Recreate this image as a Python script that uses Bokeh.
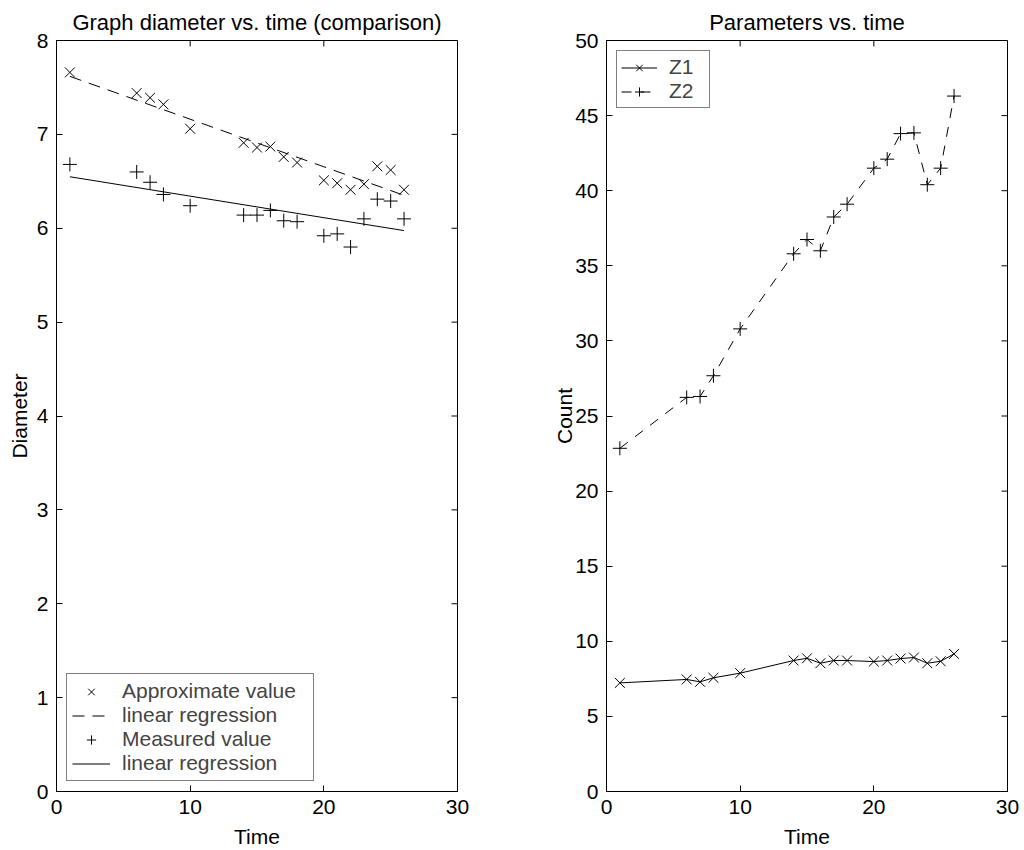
import numpy as np
from bokeh.plotting import figure
from bokeh.layouts import row
from bokeh.models import Range1d, FixedTicker, Legend, LegendItem
from bokeh.embed import file_html
from bokeh.resources import INLINE

time = [1, 6, 7, 8, 10, 14, 15, 16, 17, 18, 20, 21, 22, 23, 24, 25, 26]
approx_value = [7.66, 7.44, 7.39, 7.32, 7.06, 6.91, 6.86, 6.87, 6.76, 6.70,
                6.51, 6.48, 6.41, 6.47, 6.66, 6.62, 6.41]
measured_value = [6.68, 6.60, 6.49, 6.36, 6.24, 6.14, 6.14, 6.19, 6.08, 6.07,
                  5.92, 5.94, 5.80, 6.10, 6.31, 6.29, 6.10]
z1 = [7.23, 7.46, 7.30, 7.57, 7.88, 8.72, 8.87, 8.54, 8.72, 8.72,
      8.65, 8.72, 8.85, 8.92, 8.54, 8.67, 9.16]
z2 = [22.85, 26.24, 26.3, 27.68, 30.8, 35.8, 36.75, 36.0, 38.25, 39.1,
      41.5, 42.1, 43.8, 43.85, 40.4, 41.5, 46.3]

x_ticks = [0, 10, 20, 30]
left_y_ticks = [0, 1, 2, 3, 4, 5, 6, 7, 8]
right_y_ticks = [0, 5, 10, 15, 20, 25, 30, 35, 40, 45, 50]

X_MIN, X_MAX = 0, 30
LEFT_Y_MAX = 8
RIGHT_Y_MAX = 50

FONT = "Liberation Sans"
FS = "21px"
TITLE_FS = "22px"

t = np.array(time, dtype=float)
fit_a = np.polyfit(t, np.array(approx_value), 1)
fit_m = np.polyfit(t, np.array(measured_value), 1)
reg_t = [time[0], time[-1]]
reg_a = list(np.polyval(fit_a, reg_t))
reg_m = list(np.polyval(fit_m, reg_t))


def style(p, yticks, y_max, ylabel_standoff):
    p.outline_line_color = "black"
    p.outline_line_width = 1
    p.xgrid.visible = False
    p.ygrid.visible = False
    p.title.text_font = FONT
    p.title.text_font_size = TITLE_FS
    p.title.text_font_style = "normal"
    p.title.align = "center"
    p.title.text_color = "black"
    p.title.standoff = 12
    for ax in p.xaxis:
        ax.ticker = FixedTicker(ticks=x_ticks)
        ax.axis_label_standoff = 8
    for ax in p.yaxis:
        ax.ticker = FixedTicker(ticks=yticks)
        ax.axis_label_standoff = ylabel_standoff
    for ax in list(p.xaxis) + list(p.yaxis):
        ax.major_tick_in = 6
        ax.major_tick_out = 0
        ax.minor_tick_in = 0
        ax.minor_tick_out = 0
        ax.major_tick_line_color = "black"
        ax.axis_line_color = "black"
        ax.major_label_text_font = FONT
        ax.major_label_text_font_size = FS
        ax.major_label_text_color = "black"
        ax.axis_label_text_font = FONT
        ax.axis_label_text_font_size = FS
        ax.axis_label_text_font_style = "normal"
        ax.axis_label_text_color = "black"
        ax.major_label_standoff = 8
    # inward ticks on the top and right edges of the box
    p.ray(x=x_ticks, y=[y_max] * len(x_ticks), length=6, length_units="screen",
          angle=-np.pi / 2, line_color="black", line_width=1)
    p.ray(x=[X_MAX] * len(yticks), y=yticks, length=6, length_units="screen",
          angle=np.pi, line_color="black", line_width=1)


# Left plot
p1 = figure(width=507, height=850, output_backend="svg", toolbar_location=None,
            x_range=Range1d(X_MIN, X_MAX), y_range=Range1d(0, LEFT_Y_MAX),
            title="Graph diameter vs. time (comparison)",
            min_border_left=56, min_border_right=50, min_border_top=40, min_border_bottom=59)
p1.xaxis.axis_label = "Time"
p1.yaxis.axis_label = "Diameter"
r_ax = p1.scatter(time, approx_value, marker="x", size=14, line_color="black", line_width=1)
r_al = p1.line(reg_t, reg_a, line_color="black", line_width=1, line_dash="12 8")
r_mx = p1.scatter(time, measured_value, marker="cross", size=14, line_color="black", line_width=1)
r_ml = p1.line(reg_t, reg_m, line_color="black", line_width=1)
style(p1, left_y_ticks, LEFT_Y_MAX, 3)
leg1 = Legend(items=[
    LegendItem(label="Approximate value", renderers=[r_ax]),
    LegendItem(label="linear regression", renderers=[r_al]),
    LegendItem(label="Measured value", renderers=[r_mx]),
    LegendItem(label="linear regression", renderers=[r_ml]),
], location="bottom_left")
leg1.label_text_font = FONT
leg1.label_text_font_size = FS
leg1.label_height = 23
leg1.glyph_height = 23
leg1.glyph_width = 38
leg1.label_width = 186
leg1.spacing = 0
leg1.padding = 5
leg1.label_standoff = 12
leg1.border_line_color = "black"
leg1.border_line_width = 1.5
leg1.margin = 10
p1.add_layout(leg1)

# Right plot
p2 = figure(width=516, height=850, output_backend="svg", toolbar_location=None,
            x_range=Range1d(X_MIN, X_MAX), y_range=Range1d(0, RIGHT_Y_MAX),
            title="Parameters vs. time",
            min_border_left=99, min_border_right=16, min_border_top=40, min_border_bottom=59)
p2.xaxis.axis_label = "Time"
p2.yaxis.axis_label = "Count"
l1 = p2.line(time, z1, line_color="black", line_width=1)
s1 = p2.scatter(time, z1, marker="x", size=14, line_color="black", line_width=1)
l2 = p2.line(time, z2, line_color="black", line_width=1, line_dash="10 9")
s2 = p2.scatter(time, z2, marker="cross", size=14, line_color="black", line_width=1)
style(p2, right_y_ticks, RIGHT_Y_MAX, -4)
leg2 = Legend(items=[
    LegendItem(label="Z1", renderers=[l1, s1]),
    LegendItem(label="Z2", renderers=[l2, s2]),
], location="top_left")
leg2.label_text_font = FONT
leg2.label_text_font_size = FS
leg2.label_height = 23
leg2.glyph_height = 23
leg2.glyph_width = 36
leg2.label_width = 36
leg2.spacing = 0
leg2.padding = 4
leg2.label_standoff = 12
leg2.border_line_color = "black"
leg2.border_line_width = 1.5
leg2.margin = 10
p2.add_layout(leg2)

layout = row(p1, p2)
open("out.html", "w").write(file_html(layout, INLINE))
